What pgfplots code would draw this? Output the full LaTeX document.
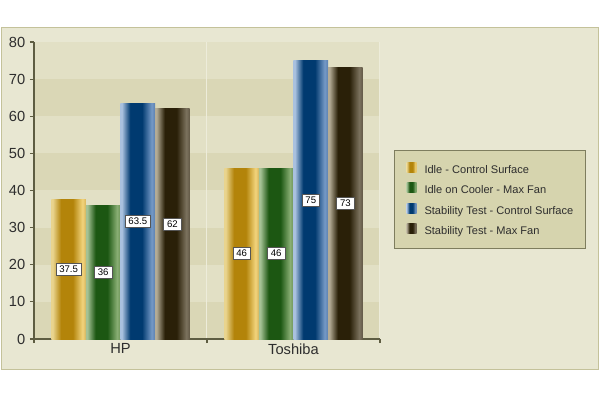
\documentclass[border=0pt]{standalone}
\usepackage{fontspec}
\setmainfont{Liberation Sans}
\usepackage{pgfplots}
\usepackage{pgfplotstable}
\pgfplotsset{compat=1.18}

\definecolor{frameBg}{HTML}{E8E7D2}
\definecolor{frameBd}{HTML}{C4C29A}
\definecolor{bandL}{HTML}{E2E0C5}
\definecolor{bandD}{HTML}{DAD7B6}
\definecolor{gridC}{HTML}{EDECDA}
\definecolor{axisC}{HTML}{5E5D42}
\definecolor{textC}{HTML}{2E2E2E}
\definecolor{legBg}{HTML}{D6D4AE}
\definecolor{legBd}{HTML}{7E7D5E}
\definecolor{labBd}{HTML}{555555}

% bar colours: left edge, dark core, right highlight, right edge
\definecolor{gL}{HTML}{E9D48E}\definecolor{gD}{HTML}{B3840A}\definecolor{gR}{HTML}{F2D47C}\definecolor{gE}{HTML}{D9B55A}
\definecolor{nL}{HTML}{A5C295}\definecolor{nD}{HTML}{1C5712}\definecolor{nR}{HTML}{89AE74}\definecolor{nE}{HTML}{6C9458}
\definecolor{bL}{HTML}{A9C1DF}\definecolor{bD}{HTML}{003A70}\definecolor{bR}{HTML}{7599C6}\definecolor{bE}{HTML}{5A80B0}
\definecolor{kL}{HTML}{B3AB95}\definecolor{kD}{HTML}{2A2008}\definecolor{kR}{HTML}{7C725E}\definecolor{kE}{HTML}{625946}

\newcommand\barshading[2]{%
  \pgfdeclarehorizontalshading{#1}{100bp}{color(0bp)=(#2L); color(27bp)=(#2L);
    color(39bp)=(#2D); color(56bp)=(#2D); color(70bp)=(#2R); color(75bp)=(#2E); color(100bp)=(#2E)}}
\barshading{goldbar}{g}
\barshading{greenbar}{n}
\barshading{bluebar}{b}
\barshading{darkbar}{k}

% row 0 = HP, row 1 = Toshiba
\pgfplotstableread{
x  idle  cooler  stabctl  stabfan
0  37.5  36      63.5     62
1  46    46      75       73
}\temps

\begin{document}
\begin{tikzpicture}
\useasboundingbox (0,0) rectangle (450pt,300pt);
\draw[fill=frameBg, draw=frameBd, line width=0.75pt] (0.75pt,22.5pt) rectangle (448.5pt,279pt);
% plot area: x 25.5pt..285pt, y 45.75pt..268.5pt, bands of 10 units
\fill[bandL] (25.5pt,45.75pt) rectangle (285pt,268.5pt);
\foreach \k in {0,2,4,6} {
  \fill[bandD] (25.5pt,{45.75pt+\k*27.84375pt}) rectangle (285pt,{45.75pt+(\k+1)*27.84375pt});
}
\begin{axis}[
    at={(25.5pt,45.75pt)}, anchor=south west,
    width=259.5pt, height=222.75pt, scale only axis,
    ybar, bar width=0.2,
    xmin=-0.5, xmax=1.5, ymin=0, ymax=80,
    ytick distance=10,
    xtick={-0.5,0.5,1.5}, xticklabels={,,},
    extra x ticks={0,1}, extra x tick labels={HP,Toshiba},
    extra x tick style={major tick length=0pt, grid=none},
    xmajorgrids, x grid style={draw=gridC, line width=0.75pt},
    axis lines*=left,
    axis line style={draw=axisC, line width=1.3pt},
    tick align=outside, major tick length=3pt,
    tick style={draw=axisC, line width=0.9pt},
    tick label style={font=\fontsize{11}{13}\selectfont, text=textC},
    /pgf/number format/assume math mode=true,
    legend style={at={(1.0405,0.636)}, anchor=north west,
        fill=legBg, draw=legBd, line width=0.75pt,
        font=\fontsize{8.3}{10}\selectfont, text=textC,
        inner xsep=9pt, inner ysep=9pt, row sep=5.4pt, column sep=6pt,
        nodes={inner sep=0pt, text height=6pt, text depth=1.6pt}},
    legend cell align=left,
    legend image code/.code={\path[#1] (0pt,-1.5pt) rectangle (7.5pt,6pt);},
    hp/.style={skip coords between index={1}{2}},
    tosh/.style={skip coords between index={0}{1}},
    lab/.style={draw=none, fill=none, forget plot, bar shift=#1,
        nodes near coords,
        visualization depends on={rawy \as \rawy},
        every node near coord/.append style={font=\fontsize{7.2}{8.5}\selectfont,
            fill=white, draw=labBd, line width=0.4pt, text=black,
            inner xsep=2.5pt, inner ysep=2pt, anchor=center,
            yshift={-1.3922pt*\rawy}}},
]
% one plot per bar so each bar gets its own shading
\addplot[shading=goldbar, draw=none, bar shift=-0.3, hp] table[x=x, y=idle] {\temps};
\addlegendentry{Idle - Control Surface}
\addplot[shading=greenbar, draw=none, bar shift=-0.1, hp] table[x=x, y=cooler] {\temps};
\addlegendentry{Idle on Cooler - Max Fan}
\addplot[shading=bluebar, draw=none, bar shift=0.1, hp] table[x=x, y=stabctl] {\temps};
\addlegendentry{Stability Test - Control Surface}
\addplot[shading=darkbar, draw=none, bar shift=0.3, hp] table[x=x, y=stabfan] {\temps};
\addlegendentry{Stability Test - Max Fan}
\addplot[shading=goldbar, draw=none, bar shift=-0.3, tosh, forget plot] table[x=x, y=idle] {\temps};
\addplot[shading=greenbar, draw=none, bar shift=-0.1, tosh, forget plot] table[x=x, y=cooler] {\temps};
\addplot[shading=bluebar, draw=none, bar shift=0.1, tosh, forget plot] table[x=x, y=stabctl] {\temps};
\addplot[shading=darkbar, draw=none, bar shift=0.3, tosh, forget plot] table[x=x, y=stabfan] {\temps};

% value labels, centred at half height of each bar
\addplot[lab=-0.3] table[x=x, y=idle] {\temps};
\addplot[lab=-0.1] table[x=x, y=cooler] {\temps};
\addplot[lab=0.1] table[x=x, y=stabctl] {\temps};
\addplot[lab=0.3] table[x=x, y=stabfan] {\temps};
\end{axis}
\end{tikzpicture}
\end{document}
